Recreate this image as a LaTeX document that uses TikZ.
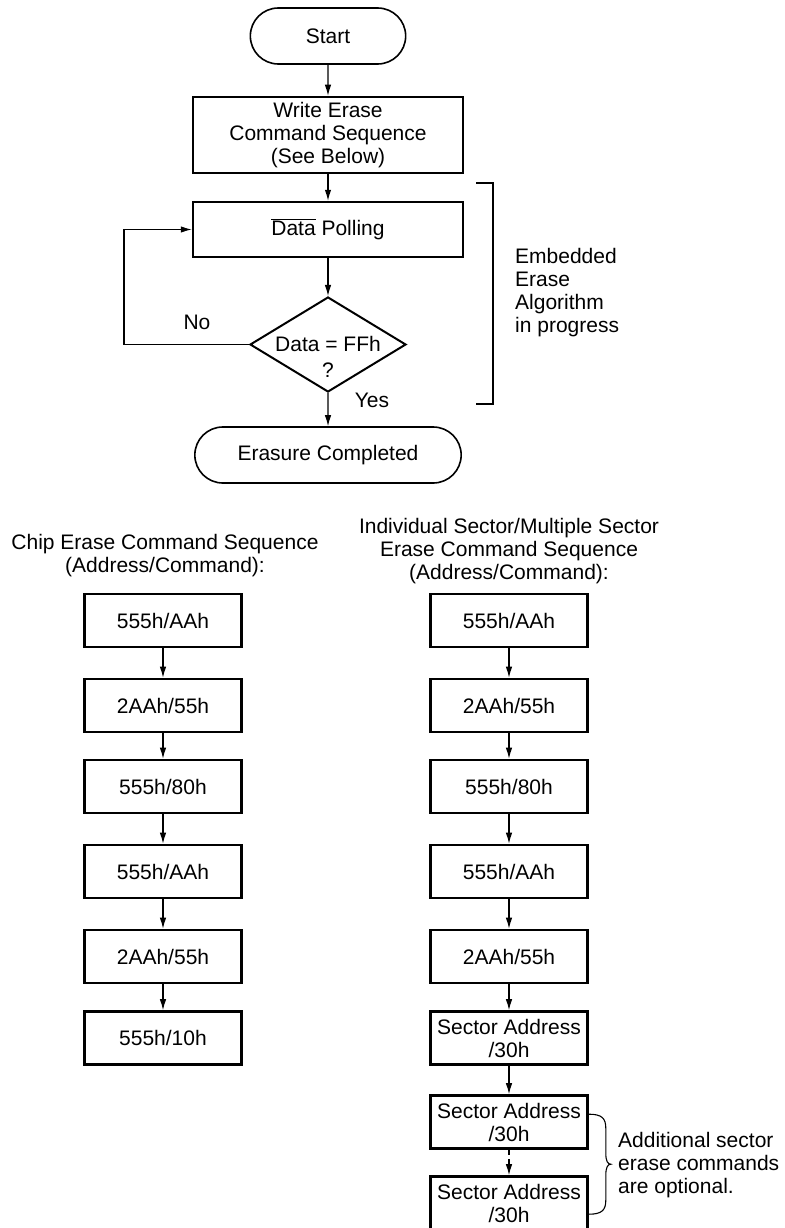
\documentclass[tikz,border=0pt]{standalone}
\usepackage{fontspec}
\setmainfont{Liberation Sans}
\usetikzlibrary{shapes.geometric,shapes.misc,arrows.meta}

\begin{document}
\begin{tikzpicture}[x=1pt,y=-1pt,
  every node/.style={font=\fontsize{21pt}{23pt}\selectfont},
  term/.style={draw,rounded rectangle,line width=1.6pt,minimum height=56pt},
  proc/.style={draw,rectangle,line width=2.5pt,minimum width=270pt,align=center},
  cmd/.style={draw,rectangle,line width=2.6pt,minimum width=157pt,minimum height=53pt,inner sep=1pt,align=center},
  arr/.style={-{Latex[length=11pt,width=6.5pt]},line width=1.1pt},
  thin/.style={line width=1.1pt}]
\useasboundingbox (0,0) rectangle (784,1228);
% main flow
\node[term,minimum width=162pt](start) at (328,36){Start};
\node[proc,minimum height=76pt](write) at (328,135){Write Erase\\Command Sequence\\(See Below)};
\node[proc,minimum height=55pt](poll) at (328,229.5){$\overline{\mbox{Data}}$ Polling};
\node[draw,diamond,line width=2pt,minimum width=156pt,minimum height=95pt,inner sep=0pt](check) at (328,344.5){};
\node[align=center,inner sep=0pt,font=\fontsize{21pt}{26pt}\selectfont](checktxt) at (328,357){Data = FFh\\?};
\node[term,minimum width=273pt](done) at (328,455){Erasure Completed};
\draw[arr] (start) -- (write);
\draw[arr] (write) -- (poll);
\draw[arr] (poll) -- (check);
\draw[arr] (check) -- (done);
\draw[arr] (check.west) -- ++(-125,0) |- (poll.west);
\node(no) at (197,322){No};
\node(yes) at (372,400){Yes};
% bracket
\draw[thin] (476,183) -| (493,404) -- (476,404);
\node[anchor=west,align=left,inner sep=0pt](embed) at (515,293){Embedded\\Erase\\Algorithm\\in progress};
% chip erase
\node[align=center](chiptitle) at (165,556){Chip Erase Command Sequence\\(Address/Command):};
\node[cmd](c1) at (163,620.5){555h/AAh};
\node[cmd](c2) at (163,705.5){2AAh/55h};
\node[cmd](c3) at (163,786.5){555h/80h};
\node[cmd](c4) at (163,871.5){555h/AAh};
\node[cmd](c5) at (163,956.5){2AAh/55h};
\node[cmd](c6) at (163,1038){555h/10h};
\draw[arr] (c1) -- (c2);
\draw[arr] (c2) -- (c3);
\draw[arr] (c3) -- (c4);
\draw[arr] (c4) -- (c5);
\draw[arr] (c5) -- (c6);
% sector erase
\node[align=center](sectitle) at (509,551){Individual Sector/Multiple Sector\\Erase Command Sequence\\(Address/Command):};
\node[cmd](s1) at (509,620.5){555h/AAh};
\node[cmd](s2) at (509,705.5){2AAh/55h};
\node[cmd](s3) at (509,786.5){555h/80h};
\node[cmd](s4) at (509,871.5){555h/AAh};
\node[cmd](s5) at (509,956.5){2AAh/55h};
\node[cmd](s6) at (509,1038){Sector Address\\/30h};
\node[cmd](s7) at (509,1122){Sector Address\\/30h};
\node[cmd](s8) at (509,1203){Sector Address\\/30h};
\draw[arr] (s1) -- (s2);
\draw[arr] (s2) -- (s3);
\draw[arr] (s3) -- (s4);
\draw[arr] (s4) -- (s5);
\draw[arr] (s5) -- (s6);
\draw[arr] (s6) -- (s7);
\draw[arr,dash pattern=on 5pt off 4pt] (s7) -- (s8);
% brace
\coordinate (bt) at ([yshift=-20pt]s7.north east);
\draw[thin] (bt) .. controls +(13,0) and +(0,-10) .. ++(17,14)
  -- ++(0,25) .. controls +(0,8) and +(-3,0) .. ++(5,11)
  .. controls +(-3,0) and +(0,-8) .. ++(-5,11)
  -- ++(0,25) .. controls +(0,10) and +(13,0) .. ++(-17,14);
\node[anchor=west,align=left,inner sep=0pt](optnote) at (618,1165){Additional sector\\erase commands\\are optional.};
\end{tikzpicture}
\end{document}
